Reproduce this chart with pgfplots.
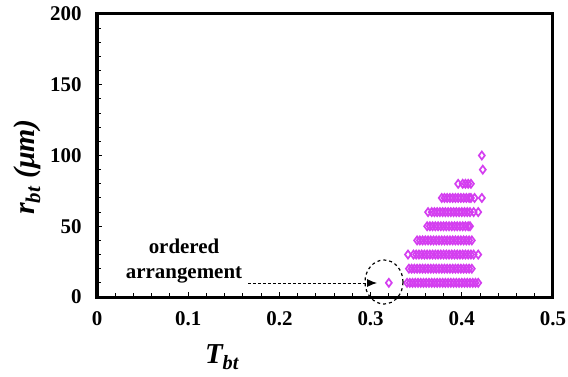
\documentclass[border=0pt]{standalone}
\usepackage{pgfplots}
\pgfplotsset{compat=1.18}
\usetikzlibrary{arrows.meta}
\usepackage{fontspec}
\setmainfont{Liberation Serif}
\definecolor{mymag}{RGB}{212,62,240}
\begin{document}
\begin{tikzpicture}
\begin{axis}[
  scale only axis, width=456bp, height=283bp,
  xmin=0, xmax=0.5, ymin=0, ymax=200,
  xtick={0,0.1,0.2,0.3,0.4,0.5}, ytick={0,50,100,150,200},
  xticklabels={0,0.1,0.2,0.3,0.4,0.5},
  minor x tick num=4, minor y tick num=4,
  tick pos=left, tick align=inside,
  major tick length=5bp, minor tick length=4bp,
  tick style={black, line width=1bp},
  axis line style={line width=3bp},
  /pgf/number format/assume math mode=true,
  xticklabel style={yshift=-11bp},
  ticklabel style={font=\bfseries\fontsize{21}{23}\selectfont},
  yticklabel style={xshift=-12bp},
  clip=false,
]
\addplot[only marks, mark=diamond, mark size=4bp, color=mymag, mark options={line width=1.7bp}] coordinates {
(0.320,10)(0.340,10)(0.343,10)(0.346,10)(0.349,10)(0.352,10)(0.355,10)(0.358,10)(0.361,10)(0.364,10)(0.367,10)(0.370,10)(0.373,10)(0.376,10)(0.379,10)(0.382,10)(0.385,10)(0.388,10)(0.391,10)(0.394,10)(0.397,10)(0.400,10)(0.403,10)(0.406,10)(0.409,10)(0.412,10)(0.415,10)(0.418,10)
(0.342,20)(0.345,20)(0.348,20)(0.351,20)(0.354,20)(0.357,20)(0.360,20)(0.363,20)(0.366,20)(0.369,20)(0.372,20)(0.375,20)(0.378,20)(0.381,20)(0.384,20)(0.387,20)(0.390,20)(0.393,20)(0.396,20)(0.399,20)(0.402,20)(0.405,20)(0.408,20)(0.411,20)
(0.341,30)(0.347,30)(0.350,30)(0.353,30)(0.356,30)(0.359,30)(0.362,30)(0.365,30)(0.368,30)(0.371,30)(0.374,30)(0.377,30)(0.380,30)(0.383,30)(0.386,30)(0.389,30)(0.392,30)(0.395,30)(0.398,30)(0.401,30)(0.404,30)(0.407,30)(0.410,30)(0.413,30)(0.418,30)
(0.351,40)(0.354,40)(0.357,40)(0.360,40)(0.363,40)(0.366,40)(0.369,40)(0.372,40)(0.375,40)(0.378,40)(0.381,40)(0.384,40)(0.387,40)(0.390,40)(0.393,40)(0.396,40)(0.399,40)(0.402,40)(0.405,40)(0.408,40)(0.411,40)
(0.362,50)(0.365,50)(0.368,50)(0.371,50)(0.374,50)(0.377,50)(0.380,50)(0.383,50)(0.386,50)(0.389,50)(0.392,50)(0.395,50)(0.398,50)(0.401,50)(0.404,50)(0.407,50)(0.409,50)
(0.363,60)(0.367,60)(0.370,60)(0.373,60)(0.376,60)(0.379,60)(0.382,60)(0.385,60)(0.388,60)(0.391,60)(0.394,60)(0.397,60)(0.400,60)(0.403,60)(0.406,60)(0.409,60)(0.413,60)(0.418,60)
(0.378,70)(0.381,70)(0.384,70)(0.387,70)(0.390,70)(0.393,70)(0.396,70)(0.399,70)(0.402,70)(0.405,70)(0.408,70)(0.410,70)(0.414,70)(0.422,70)
(0.396,80)(0.401,80)(0.404,80)(0.407,80)(0.410,80)
(0.423,90)
(0.422,100)
};
\end{axis}
\draw[dashed, line width=1.2bp] (287bp,15bp) ellipse (19bp and 22bp);
\draw[densely dashed, line width=0.9bp, -{Latex[length=10bp,width=8bp]}] (151bp,14bp) -- (280bp,14bp);
\node[font=\bfseries\fontsize{21}{25}\selectfont, align=center] at (87bp,36bp) {ordered\\arrangement};
\node[font=\bfseries\itshape\fontsize{29}{31}\selectfont] at (125bp,-60bp) {T\textsubscript{bt}};
\node[font=\bfseries\itshape\fontsize{30}{32}\selectfont, rotate=90] at (-70bp,130bp) {r\textsubscript{bt} (μm)};
\pgfresetboundingbox
\path[use as bounding box] (-97bp,-80bp) rectangle (471bp,297bp);
\end{tikzpicture}
\end{document}
